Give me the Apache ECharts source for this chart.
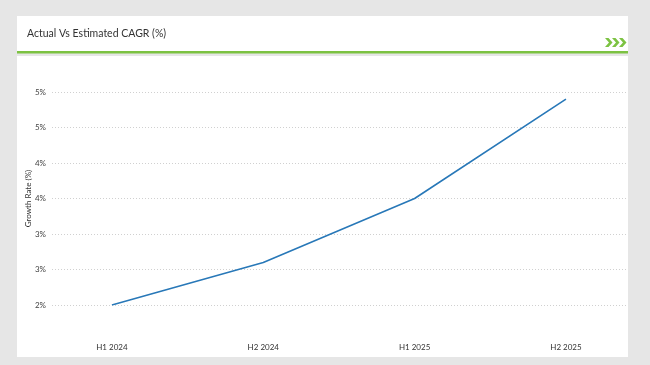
<!DOCTYPE html>
<html>
<head>
<meta charset="utf-8">
<script src="https://cdn.jsdelivr.net/npm/echarts@6/dist/echarts.min.js"></script>
<style>
html,body{margin:0;padding:0;background:#e6e6e6;}
#chart{width:650px;height:365px;}
</style>
</head>
<body>
<div id="chart"></div>
<script>
var categories = ['H1 2024', 'H2 2024', 'H1 2025', 'H2 2025'];
var growthRate = [2.0, 2.6, 3.5, 4.9];
var yMin = 2, yMax = 5, yStep = 0.5;
var titleText = 'Actual Vs Estimated CAGR (%)';
var yAxisName = 'Growth Rate (%)';

var chart = echarts.init(document.getElementById('chart'));
var FONT = 'Lato, "Open Sans", sans-serif';

function chevron(x, y) {
  return {
    type: 'polygon', z: 10,
    shape: { points: [[x, y], [x + 3.5, y], [x + 7.5, y + 4.5], [x + 3.5, y + 9], [x, y + 9], [x + 4, y + 4.5]] },
    style: { fill: '#7cc242' }
  };
}

var option = {
  backgroundColor: '#e6e6e6',
  animation: false,
  graphic: [
    { type: 'rect', z: 0, shape: { x: 17, y: 16, width: 611, height: 37 }, style: { fill: '#ffffff' } },
    { type: 'rect', z: 1, shape: { x: 17, y: 51, width: 611, height: 2.5 }, style: { fill: '#7cc242' } },
    { type: 'rect', z: 0, shape: { x: 17, y: 56, width: 611, height: 301 }, style: { fill: '#ffffff' } },
    chevron(605, 38), chevron(612, 38), chevron(619, 38)
  ],
  title: {
    text: titleText,
    left: 22, top: 23,
    textStyle: { fontFamily: FONT, fontSize: 10.5, fontWeight: 'normal', color: '#333' }
  },
  grid: { left: 52, right: 22, top: 92, bottom: 60 },
  xAxis: {
    type: 'value',
    min: -0.396, max: 3.41,
    axisLine: { show: false },
    axisTick: { show: false },
    splitLine: { show: false },
    axisLabel: {
      customValues: categories.map(function (c, i) { return i; }),
      formatter: function (v) { return categories[Math.round(v)] || ''; },
      margin: 38,
      fontFamily: FONT, fontSize: 8, color: '#333'
    }
  },
  yAxis: {
    type: 'value',
    min: yMin, max: yMax, interval: yStep,
    name: yAxisName,
    nameLocation: 'middle',
    nameGap: 20,
    nameMoveOverlap: false,
    nameTextStyle: { fontFamily: FONT, fontSize: 8, color: '#333' },
    axisLine: { show: false },
    axisTick: { show: false },
    axisLabel: {
      formatter: function (v) { return Math.round(v) + '%'; },
      margin: 6,
      fontFamily: FONT, fontSize: 8, color: '#444'
    },
    splitLine: { show: true, lineStyle: { type: [1, 2], color: '#d0d0d0', width: 1 } }
  },
  series: [{
    type: 'line',
    data: growthRate.map(function (v, i) { return [i, v]; }),
    symbol: 'none',
    lineStyle: { color: '#2878b8', width: 1.6 }
  }]
};
chart.setOption(option);
</script>
</body>
</html>
